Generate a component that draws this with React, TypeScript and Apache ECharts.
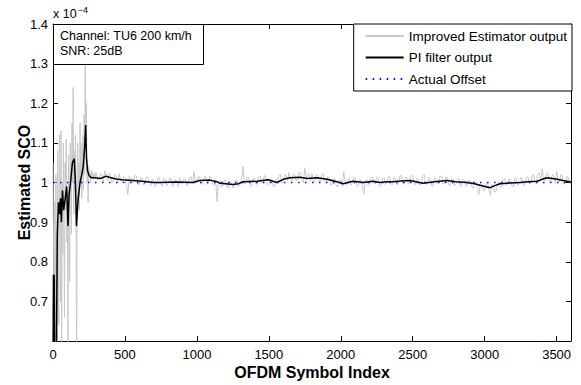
import React, { useEffect, useRef } from "react";
import * as echarts from "echarts";

// Improved estimator output (x 1e-4), early transient part
const grayEarlyX = [0, 4, 8, 12, 16, 20, 24, 28, 32, 36, 40, 44, 48, 52, 56, 60, 64, 68, 72, 76, 80, 84, 88, 92, 96, 100, 104, 108, 112, 116, 120, 124, 128, 132, 136, 140, 144, 148, 152, 156, 160, 164, 168, 172, 176, 180, 184, 188, 192, 196, 200, 204, 208, 212, 216, 220, 224, 228, 232, 236, 240, 244, 248, 252, 256, 260, 264, 268, 272, 276, 280, 285, 290, 295];
const grayEarlyY = [1.05, 0.82, 0.5, 0.95, 0.55, 1.02, 0.78, 0.5, 1.08, 0.88, 0.64, 1.12, 0.92, 0.7, 1.13, 0.5, 1.0, 0.82, 1.1, 0.9, 0.66, 1.05, 0.93, 1.11, 0.85, 0.98, 0.5, 1.07, 0.95, 0.75, 1.1, 0.97, 0.87, 1.15, 1.0, 1.24, 0.92, 1.08, 0.98, 1.12, 0.9, 0.5, 1.0, 1.1, 0.95, 1.05, 0.93, 1.15, 1.0, 1.1, 0.96, 1.05, 1.12, 0.98, 1.17, 1.02, 1.36, 1.1, 1.2, 1.0, 1.06, 0.95, 1.04, 1.02, 1.03, 1.0, 1.025, 1.01, 1.03, 1.015, 1.02, 1.008, 1.025, 1.012];
// Improved estimator output, steady part: symbols 300, 310, ..., 3600
const grayLateStart = 300;
const grayLateStep = 10;
const grayLateY = [
  1.025, 1.004, 1.008, 1.022, 1.02, 1.002, 1.03, 1.012, 1.005, 1.024,
  1.018, 1.0, 1.002, 1.02, 1.015, 0.998, 1.022, 1.006, 1.0, 1.016,
  1.012, 0.995, 0.97, 1.015, 1.01, 0.998, 1.003, 1.018, 1.016, 0.996,
  0.995, 1.012, 1.01, 0.993, 1.0, 1.014, 1.013, 0.996, 0.992, 1.008,
  1.006, 0.99, 1.0, 1.012, 1.012, 0.994, 0.99, 1.01, 1.008, 0.992,
  0.997, 1.011, 1.01, 0.99, 0.993, 1.008, 1.004, 0.99, 1.012, 1.002,
  0.995, 1.01, 1.008, 0.992, 0.998, 1.012, 1.015, 0.998, 1.028, 1.0,
  1.0, 1.016, 1.012, 0.997, 0.996, 1.014, 1.015, 0.995, 1.002, 1.016,
  1.01, 0.996, 0.993, 1.008, 0.952, 1.0, 1.003, 0.988, 0.99, 1.006,
  1.006, 0.988, 0.985, 1.004, 1.0, 0.986, 0.99, 1.005, 1.006, 0.99,
  0.995, 1.008, 1.04, 0.996, 0.998, 1.012, 1.012, 0.994, 0.99, 1.01,
  1.01, 0.995, 0.997, 1.014, 1.016, 0.998, 1.0, 1.018, 1.012, 0.996,
  0.993, 1.01, 1.008, 0.99, 0.99, 1.008, 1.005, 1.016, 1.02, 0.998,
  1.003, 1.02, 1.018, 1.004, 1.025, 1.008, 1.005, 1.022, 1.02, 1.004,
  1.01, 1.026, 1.024, 1.004, 1.0, 1.037, 1.008, 1.02, 1.022, 1.003,
  1.022, 1.003, 1.0, 1.02, 1.018, 1.002, 1.006, 1.022, 1.02, 1.0,
  0.998, 1.015, 1.012, 0.994, 0.995, 1.01, 1.008, 0.99, 0.99, 1.006,
  1.005, 0.99, 1.027, 1.004, 0.993, 1.008, 1.01, 0.994, 0.998, 1.012,
  1.012, 0.994, 0.99, 1.008, 1.006, 0.992, 0.97, 1.004, 1.008, 0.993,
  0.996, 1.012, 1.014, 0.997, 1.0, 1.013, 1.01, 0.99, 0.992, 1.01,
  1.012, 0.995, 0.998, 1.014, 1.015, 0.996, 0.995, 1.012, 1.01, 0.994,
  1.0, 1.016, 1.018, 0.998, 0.996, 1.014, 1.012, 0.997, 1.002, 1.018,
  1.016, 0.996, 0.994, 1.01, 1.008, 0.993, 0.998, 1.016, 1.02, 0.997,
  0.995, 1.012, 1.01, 0.992, 0.99, 1.01, 1.012, 0.996, 1.0, 1.016,
  1.015, 0.997, 0.997, 1.014, 1.013, 0.994, 0.992, 1.01, 1.008, 0.993,
  0.995, 1.008, 1.01, 0.992, 0.99, 1.008, 1.006, 0.99, 0.994, 1.006,
  1.004, 0.99, 0.985, 1.002, 1.0, 0.985, 0.97, 0.996, 0.995, 0.98,
  0.98, 0.998, 0.998, 0.982, 0.967, 0.995, 0.99, 0.975, 0.978, 0.996,
  1.002, 0.988, 0.99, 1.008, 1.01, 0.992, 0.995, 1.01, 1.008, 0.99,
  0.99, 1.01, 1.012, 0.994, 0.996, 1.012, 1.01, 0.992, 0.995, 1.013,
  1.015, 0.998, 1.0, 1.018, 1.02, 1.0, 1.003, 1.02, 1.025, 1.004,
  1.035, 1.008, 1.005, 1.024, 1.022, 1.002, 1.0, 1.02, 1.018, 0.998,
  1.028, 1.004, 1.002, 1.02, 1.015, 0.996, 0.998, 1.016, 1.012, 0.998,
  0.998
];

// PI filter output
const piX = [0, 3, 8, 12, 22, 30, 38, 45, 52, 58, 66, 74, 85, 95, 104, 112, 122, 135, 148, 156, 163, 175, 188, 200, 210, 220, 227, 233, 240, 250, 265, 290, 330, 370, 400, 440, 500, 556, 620, 700, 741, 850, 973, 1019, 1091, 1140, 1161, 1200, 1251, 1290, 1321, 1418, 1494, 1556, 1600, 1647, 1717, 1765, 1835, 1904, 1974, 2016, 2085, 2155, 2224, 2273, 2321, 2363, 2420, 2481, 2572, 2650, 2738, 2800, 2877, 2930, 2968, 3037, 3070, 3107, 3180, 3246, 3300, 3364, 3400, 3433, 3470, 3503, 3545, 3593, 3600];
const piY = [0.5, 0.766, 0.766, 0.5, 0.5, 0.87, 0.95, 0.92, 0.96, 0.9, 0.98, 0.93, 0.96, 0.99, 0.89, 0.97, 1.0, 1.05, 1.06, 1.0, 0.89, 0.96, 1.0, 1.02, 1.04, 1.09, 1.145, 1.06, 1.03, 1.018, 1.012, 1.012, 1.01, 1.016, 1.012, 1.009, 1.006, 1.005, 1.003, 1.0, 1.0, 1.001, 1.0, 1.005, 1.006, 1.002, 0.998, 0.997, 0.995, 0.997, 1.002, 1.003, 1.007, 1.0, 1.008, 1.012, 1.013, 1.01, 1.012, 1.008, 1.002, 0.997, 1.003, 1.0, 1.003, 1.0, 1.002, 1.002, 1.004, 1.005, 0.998, 1.002, 1.005, 1.002, 1.0, 0.997, 0.993, 0.987, 0.992, 0.997, 0.999, 1.0, 1.002, 1.003, 1.008, 1.012, 1.01, 1.008, 1.005, 1.002, 1.001];

// Actual offset
const actualX = [0, 3600];
const actualY = [1.0, 1.0];

const seriesNames = ["Improved Estimator output", "PI filter output", "Actual Offset"];
const xTicks = { min: 0, max: 3600, interval: 500 };
const yTicks = { min: 0.6, max: 1.4, interval: 0.1 };

const FONT = "Liberation Sans, Arial, Helvetica, sans-serif";

export default function App() {
  const ref = useRef<HTMLDivElement>(null);
  useEffect(() => {
    if (!ref.current) return;
    const chart = echarts.init(ref.current, null, { renderer: "svg" });
    const grayData: number[][] = grayEarlyX.map((x, i) => [x, grayEarlyY[i]]);
    grayLateY.forEach((v, i) => grayData.push([grayLateStart + grayLateStep * i, v]));
    const piData = piX.map((x, i) => [x, piY[i]]);
    const actualData = actualX.map((x, i) => [x, actualY[i]]);

    const axisLine = { show: true, onZero: false, lineStyle: { color: "#000", width: 1 } };
    const axisTick = { show: true, inside: true, length: 5, lineStyle: { color: "#000", width: 1 } };
    const yFmt = (v: number) => String(parseFloat(v.toFixed(1)));
    const xFmt = (v: number) => String(v);

    chart.setOption({
      animation: false,
      textStyle: { fontFamily: FONT },
      grid: { left: 53, top: 24, right: 10, bottom: 42 },
      xAxis: [
        {
          type: "value", ...xTicks, position: "bottom",
          axisLine, axisTick, splitLine: { show: false },
          axisLabel: { color: "#000", fontSize: 13, fontFamily: FONT, margin: 7, showMaxLabel: false, formatter: xFmt },
          name: "OFDM Symbol Index", nameLocation: "middle", nameGap: 23, nameMoveOverlap: false,
          nameTextStyle: { color: "#000", fontSize: 16, fontWeight: "bold", fontFamily: FONT },
        },
        {
          type: "value", ...xTicks, position: "top",
          axisLine, axisTick, splitLine: { show: false }, axisLabel: { show: false },
        },
      ],
      yAxis: [
        {
          type: "value", ...yTicks, position: "left",
          axisLine, axisTick, splitLine: { show: false },
          axisLabel: { color: "#000", fontSize: 13, fontFamily: FONT, margin: 5, showMinLabel: false, formatter: yFmt },
          name: "Estimated SCO", nameLocation: "middle", nameGap: 21, nameRotate: 90, nameMoveOverlap: false,
          nameTextStyle: { color: "#000", fontSize: 16, fontWeight: "bold", fontFamily: FONT },
        },
        {
          type: "value", ...yTicks, position: "right",
          axisLine, axisTick, splitLine: { show: false }, axisLabel: { show: false },
        },
      ],
      legend: {
        orient: "vertical", right: 9, top: 24,
        data: seriesNames,
        backgroundColor: "#fff", borderColor: "#000", borderWidth: 1, borderRadius: 0,
        padding: [5, 5, 5, 11], itemWidth: 38, itemHeight: 14, itemGap: 7.5,
        itemStyle: { opacity: 0 },
        textStyle: { color: "#000", fontSize: 13.5, fontFamily: FONT },
        z: 20,
      },
      series: [
        {
          name: seriesNames[0], type: "line", data: grayData, symbol: "none", clip: true,
          lineStyle: { color: "#c8c8c8", width: 1 }, itemStyle: { color: "#c8c8c8" }, z: 2,
        },
        {
          name: seriesNames[1], type: "line", data: piData, symbol: "none", clip: true,
          lineStyle: { color: "#000", width: 1.5 }, itemStyle: { color: "#000" }, z: 3,
        },
        {
          name: seriesNames[2], type: "line", data: actualData, symbol: "none", clip: true,
          lineStyle: { color: "#0000ff", width: 1.5, type: [1.5, 5.5] }, itemStyle: { color: "#0000ff" }, z: 4,
        },
      ],
      graphic: [
        {
          type: "rect", z: 50,
          shape: { x: 53.5, y: 24.5, width: 150, height: 40 },
          style: { fill: "#fff", stroke: "#000", lineWidth: 1 },
        },
        {
          type: "text", z: 51, x: 60, y: 36,
          style: { text: "Channel: TU6 200 km/h", fill: "#000", fontSize: 12.5, fontFamily: FONT, verticalAlign: "middle" },
        },
        {
          type: "text", z: 51, x: 60, y: 51,
          style: { text: "SNR: 25dB", fill: "#000", fontSize: 12.5, fontFamily: FONT, verticalAlign: "middle" },
        },
        {
          type: "text", z: 51, x: 53, y: 14,
          style: {
            text: "x 10{sup|−4}", fill: "#000", fontSize: 12.5, fontFamily: FONT, verticalAlign: "middle",
            rich: { sup: { fontSize: 9, fontFamily: FONT, fill: "#000", verticalAlign: "bottom", padding: [0, 0, 8, 1] } },
          },
        },
      ],
    });
    return () => chart.dispose();
  }, []);
  return (
    <div
      ref={ref}
      style={{ position: "fixed", left: 0, top: 0, width: 581, height: 385, background: "#fff" }}
    />
  );
}
